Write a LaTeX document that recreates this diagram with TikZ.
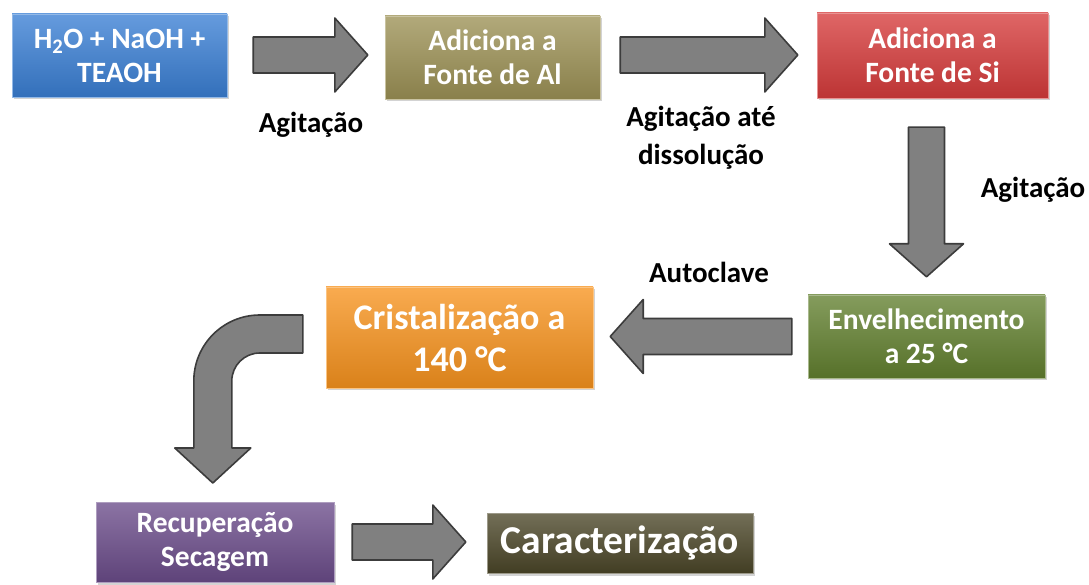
\documentclass[tikz,border=0pt]{standalone}
\usepackage{fontspec}
\setmainfont{Carlito}
\usetikzlibrary{positioning,calc,shadows}
\definecolor{boxBlue}{HTML}{3A7FD4}
\definecolor{boxOlive}{HTML}{9C9155}
\definecolor{boxRed}{HTML}{D63B3B}
\definecolor{boxGreen}{HTML}{62802F}
\definecolor{boxOrange}{HTML}{F7931E}
\definecolor{boxPurple}{HTML}{6B4C8A}
\definecolor{boxDark}{HTML}{4B4628}
\definecolor{arrowGray}{HTML}{808080}
\definecolor{arrowDark}{HTML}{3C3C3C}

\begin{document}
\begin{tikzpicture}[
    x=1pt, y=1pt,
    stageBox/.style={rectangle, draw=#1!55!white, thin, top color=#1!78!white, middle color=#1, bottom color=#1!88!black,
        text=white, font=\bfseries\fontsize{29.5}{34}\selectfont, align=center, inner sep=0pt,
        drop shadow={opacity=0.35, shadow xshift=1.5pt, shadow yshift=-2.5pt}},
    stepLabel/.style={font=\bfseries\fontsize{29}{38}\selectfont, align=center, text=black},
    blockArrow/.style={draw=arrowDark, fill=arrowGray, line width=1.6pt, line join=round,
        to path={let \p1=(\tikztostart), \p2=(\tikztotarget),
            \n1={atan2(\y2-\y1,\x2-\x1)}, \n2={veclen(\x2-\x1,\y2-\y1)} in
            {[shift={(\p1)}, rotate=\n1]
             (0pt,-18pt) -- (\n2-33pt,-18pt) -- (\n2-33pt,-37pt) -- (\n2,0pt)
             -- (\n2-33pt,37pt) -- (\n2-33pt,18pt) -- (0pt,18pt) -- cycle}}},
    bentArrow/.style={draw=arrowDark, fill=arrowGray, line width=1.6pt, line join=round}
]
    \useasboundingbox (0,0) rectangle (1089,584);

    % etapas
    \node[stageBox=boxBlue, minimum width=215, minimum height=83] (mistura) at (119.5,528.5)
        {H\textsubscript{2}O + NaOH +\\TEAOH};
    \node[stageBox=boxOlive, minimum width=215, minimum height=83] (fonteAl) at (492.5,526.5)
        {Adiciona a\\Fonte de Al};
    \node[stageBox=boxRed, minimum width=231, minimum height=85] (fonteSi) at (932.5,528.5)
        {Adiciona a\\Fonte de Si};
    \node[stageBox=boxGreen, minimum width=237, minimum height=83] (envelh) at (926.5,247.5)
        {Envelhecimento\\a 25 °C};
    \node[stageBox=boxOrange, minimum width=267, minimum height=101,
        font=\bfseries\fontsize{36}{42}\selectfont] (cristal) at (459.5,246.5)
        {Cristalização a\\140 °C};
    \node[stageBox=boxPurple, minimum width=238, minimum height=80] (recup) at (215,42)
        {Recuperação\\Secagem};
    \node[stageBox=boxDark, minimum width=266, minimum height=60,
        font=\bfseries\fontsize{39.5}{44}\selectfont] (caract) at (620,41)
        {Caracterização};

    % rótulos
    \node[stepLabel] (lAgit1) at (311,459) {Agitação};
    \node[stepLabel] (lAgit2) at (701,446) {Agitação até\\dissolução};
    \node[stepLabel] (lAgit3) at (1033,394) {Agitação};
    \node[stepLabel] (lAuto) at (709,312) {Autoclave};

    % setas
    \coordinate (a1s) at ($(mistura.east)+(26,0.5)$);
    \coordinate (a1e) at ($(fonteAl.west)+(-17,2.5)$);
    \coordinate (a2s) at ($(fonteAl.east)+(20,2.5)$);
    \coordinate (a2e) at ($(fonteSi.west)+(-19,0.5)$);
    \coordinate (a3s) at ($(fonteSi.south)+(-6,-29)$);
    \coordinate (a3e) at ($(envelh.north)+(0,18)$);
    \coordinate (a4s) at ($(envelh.west)+(-16,0)$);
    \coordinate (a4e) at ($(cristal.east)+(17,1)$);
    \coordinate (a5s) at ($(recup.east)+(18,0)$);
    \coordinate (a5e) at ($(caract.west)+(-21,1)$);
    \coordinate (c0) at ($(cristal.west)+(-23,3.5)$);

    \draw[blockArrow] (a1s) to (a1e);
    \draw[blockArrow] (a2s) to (a2e);
    \draw[blockArrow] (a3s) to (a3e);
    \draw[blockArrow] (a4s) to (a4e);
    \draw[blockArrow] (a5s) to (a5e);
    \draw[bentArrow] ([yshift=19]c0) -- ++(-43,0) arc[start angle=90, end angle=180, radius=66]
        -- ++(0,-67) -- ++(-19,0) -- ++(38,-35) -- ++(38,35) -- ++(-19,0) -- ++(0,67)
        arc[start angle=180, end angle=90, radius=28] -- ++(43,0) -- cycle;
\end{tikzpicture}
\end{document}
